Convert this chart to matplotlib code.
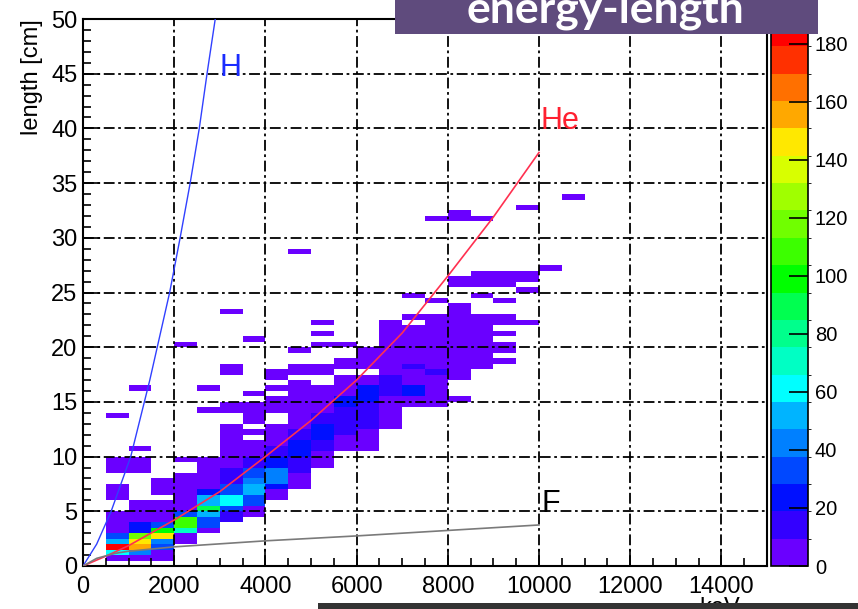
import numpy as np
import matplotlib.pyplot as plt
from matplotlib.colors import ListedColormap, BoundaryNorm
from matplotlib.patches import Rectangle

plt.rcParams['font.family'] = ['Liberation Sans', 'DejaVu Sans']

# binning of the energy-length histogram
e_edges = np.arange(0, 15001, 500)
l_edges = np.arange(0, 50.01, 0.5)

# filled bins per energy column: (length low, length high, entries)
col_0500 = [(0.5, 1.0, 5), (1.0, 1.5, 62), (1.5, 2.0, 185), (2.0, 2.5, 52), (2.5, 3.0, 33),
            (3.0, 5.0, 5), (6.0, 7.5, 3), (8.5, 10.0, 3), (13.5, 14.0, 1)]
col_1000 = [(0.5, 1.0, 5), (1.0, 1.5, 45), (1.5, 2.0, 158), (2.0, 2.5, 150), (2.5, 3.0, 120),
            (3.0, 4.0, 22), (4.0, 6.0, 5), (8.5, 10.0, 3), (10.5, 11.0, 1), (16.0, 16.5, 1)]
col_1500 = [(0.5, 1.5, 5), (1.5, 2.0, 30), (2.0, 2.5, 42), (2.5, 3.0, 146), (3.0, 3.5, 100),
            (3.5, 4.0, 33), (4.0, 6.0, 5), (6.5, 8.0, 4)]
col_2000 = [(2.0, 3.0, 6), (3.0, 3.5, 75), (3.5, 4.5, 105), (4.5, 5.0, 33), (5.0, 8.5, 5),
            (9.5, 10.0, 4), (20.0, 20.5, 1)]
col_2500 = [(3.0, 3.5, 8), (3.5, 4.5, 30), (4.5, 5.0, 52), (5.0, 5.5, 85), (5.5, 6.5, 50),
            (6.5, 7.0, 20), (7.0, 10.0, 5), (14.0, 14.5, 1), (16.0, 16.5, 1)]
col_3000 = [(4.0, 5.0, 12), (5.0, 5.5, 30), (5.5, 6.5, 62), (6.5, 7.5, 30), (7.5, 9.0, 14),
            (9.0, 13.0, 5), (14.0, 15.0, 4), (17.5, 18.5, 2), (23.0, 23.5, 1)]
col_3500 = [(4.5, 5.0, 6), (5.0, 5.5, 8), (5.5, 6.5, 30), (6.5, 7.5, 55), (7.5, 8.0, 42),
            (8.0, 9.0, 33), (9.0, 10.0, 18), (10.0, 11.5, 5), (12.0, 12.5, 5), (13.0, 15.0, 5),
            (15.5, 16.0, 3), (20.5, 21.0, 1)]
col_4000 = [(6.0, 7.0, 8), (7.0, 7.5, 25), (7.5, 9.0, 42), (9.0, 10.0, 28), (10.0, 11.0, 14),
            (11.0, 13.0, 5), (14.0, 15.5, 5), (16.0, 16.5, 5), (17.0, 18.0, 4)]
col_4500 = [(7.0, 8.5, 6), (8.5, 10.0, 16), (10.0, 11.5, 24), (11.5, 12.5, 12), (12.5, 17.0, 5),
            (17.5, 18.5, 4), (19.5, 20.0, 2), (28.5, 29.0, 1)]
col_5000 = [(9.0, 10.5, 5), (10.5, 11.5, 14), (11.5, 13.0, 20), (13.0, 14.0, 14), (14.0, 16.5, 5),
            (17.5, 18.5, 4), (20.0, 20.5, 2), (21.0, 21.5, 1), (22.0, 22.5, 1)]
col_5500 = [(10.5, 12.0, 5), (12.0, 13.0, 18), (13.0, 14.5, 14), (14.5, 15.5, 24), (15.5, 17.5, 5),
            (18.0, 19.0, 4), (20.0, 20.5, 2)]
col_6000 = [(10.5, 12.5, 5), (12.5, 15.0, 14), (15.0, 16.5, 24), (16.5, 17.5, 8), (18.0, 20.0, 4)]
col_6500 = [(12.5, 15.5, 5), (15.5, 17.5, 14), (17.5, 22.5, 5)]
col_7000 = [(14.5, 15.5, 5), (15.5, 16.5, 22), (16.5, 18.0, 6), (18.0, 18.5, 15), (18.5, 22.0, 5),
            (22.5, 23.0, 4), (24.5, 25.0, 1)]
col_7500 = [(14.5, 17.5, 5), (17.5, 18.0, 18), (18.0, 23.0, 5), (24.0, 24.5, 1), (31.5, 32.0, 1)]
col_8000 = [(15.0, 15.5, 2), (17.0, 24.0, 4), (25.5, 26.5, 2), (31.5, 32.5, 1)]
col_8500 = [(18.0, 23.0, 3), (24.5, 25.0, 1), (25.5, 27.0, 2), (31.5, 32.0, 1)]
col_9000 = [(18.5, 19.0, 2), (19.5, 20.5, 3), (21.0, 21.5, 2), (22.0, 23.0, 2), (24.0, 24.5, 1),
            (25.5, 27.0, 2)]
col_9500 = [(22.0, 22.5, 1), (25.0, 25.5, 1), (26.0, 27.0, 2), (32.5, 33.0, 1)]
col_10000 = [(27.0, 27.5, 1)]
col_10500 = [(33.5, 34.0, 1)]

columns = {500: col_0500, 1000: col_1000, 1500: col_1500, 2000: col_2000, 2500: col_2500,
           3000: col_3000, 3500: col_3500, 4000: col_4000, 4500: col_4500, 5000: col_5000,
           5500: col_5500, 6000: col_6000, 6500: col_6500, 7000: col_7000, 7500: col_7500,
           8000: col_8000, 8500: col_8500, 9000: col_9000, 9500: col_9500, 10000: col_10000,
           10500: col_10500}

# range-energy curves
h_energy = [0, 300, 617, 1047, 1465, 1900, 2130, 2350, 2550, 2720, 2900]
h_length = [0, 2.0, 5.0, 10.0, 17.0, 25.0, 30.0, 35.0, 40.0, 45.0, 50.0]
he_energy = [0, 500, 1000, 2000, 3000, 4000, 5000, 6000, 7000, 8000, 9000, 10000]
he_length = [0, 0.9, 1.86, 4.2, 6.8, 10.0, 13.3, 17.0, 21.3, 26.5, 31.9, 37.8]
f_energy = [0, 300, 700, 1000, 2000, 4000, 6000, 8000, 10000]
f_length = [0, 0.7, 1.15, 1.35, 1.75, 2.3, 2.75, 3.25, 3.75]

band_colors = ['#6a00ff', '#3300ff', '#0010ff', '#0048ff', '#0080ff', '#00b4ff',
               '#00ffff', '#00ffc4', '#00ff8c', '#00ff50', '#00ff00', '#3cff00',
               '#70ff00', '#a0ff00', '#d8ff00', '#ffe800', '#ffa800', '#ff7000',
               '#ff3000', '#ff0000']
z_max = 188.6

counts = np.zeros((len(e_edges) - 1, len(l_edges) - 1))
for e_low, segs in columns.items():
    i = e_low // 500
    for lo, hi, n in segs:
        counts[i, int(round(lo / 0.5)):int(round(hi / 0.5))] = n

fig = plt.figure(figsize=(8.58, 6.09), dpi=100)
ax = fig.add_axes([83 / 858, 1 - 566 / 609, (767 - 83) / 858, (566 - 19) / 609])

cmap = ListedColormap(band_colors)
levels = np.linspace(0, z_max, len(band_colors) + 1)
norm = BoundaryNorm(levels, cmap.N)
mesh = ax.pcolormesh(e_edges, l_edges, np.ma.masked_equal(counts, 0).T,
                     cmap=cmap, norm=norm, zorder=1)

ax.plot(h_energy, h_length, color='#3040ff', lw=1.0, zorder=4)
ax.plot(he_energy, he_length, color='#ff3050', lw=1.2, zorder=4)
ax.plot(f_energy, f_length, color='#7a7a7a', lw=1.2, zorder=4)

ax.text(3000, 44.8, 'H', color='#1a2cff', fontsize=22, zorder=5)
ax.text(10040, 39.9, 'He', color='#ff2030', fontsize=22, zorder=5)
ax.text(10060, 4.9, 'F', color='black', fontsize=22, zorder=5)

ax.set_xlim(0, 15000)
ax.set_ylim(0, 50)
ax.set_xticks(np.arange(0, 14001, 2000))
ax.set_xticks(np.arange(0, 15001, 500), minor=True)
ax.set_yticks(np.arange(0, 51, 5))
ax.set_yticks(np.arange(0, 51, 1), minor=True)
ax.tick_params(which='both', direction='in', top=False, right=False,
               labelsize=17, width=1.2, colors='black')
ax.tick_params(which='major', length=12)
ax.tick_params(which='minor', length=6)
ax.tick_params(axis='x', pad=7)
ax.tick_params(axis='y', pad=4)
for sp in ax.spines.values():
    sp.set_linewidth(1.5)

ax.grid(True, which='major', color='black', lw=1.3,
        linestyle=(0, (6, 2, 1.5, 2)), zorder=3)
ax.set_axisbelow(False)

ax.set_ylabel('length [cm]', fontsize=17, loc='top', labelpad=6)

fig.text(740 / 858, 1 - 597 / 609, 'keV', fontsize=17, ha='right', va='top')

# palette axis
cax = fig.add_axes([771 / 858, 1 - 566 / 609, (808 - 771) / 858, (566 - 19) / 609])
cb = fig.colorbar(mesh, cax=cax, ticks=np.arange(0, 181, 20))
cb.outline.set_linewidth(1.2)
cax.tick_params(direction='in', length=14, width=1.2, labelsize=14.5, pad=5)

# slide title banner and bottom strip
fig.add_artist(Rectangle((395 / 858, 1 - 34 / 609), (818 - 395) / 858, 34 / 609,
                         transform=fig.transFigure, facecolor='#5f4b7d',
                         edgecolor='none', zorder=10))
fig.text(605 / 858, 1 - 22 / 609, 'energy-length', color='white', fontsize=32,
         fontweight='bold', family=['Lato', 'DejaVu Sans'], ha='center',
         va='baseline', zorder=11)
fig.add_artist(Rectangle((318 / 858, 0), 540 / 858, 6 / 609,
                         transform=fig.transFigure, facecolor='#333333',
                         edgecolor='none', zorder=10))

fig.savefig('out.png', dpi=100)
